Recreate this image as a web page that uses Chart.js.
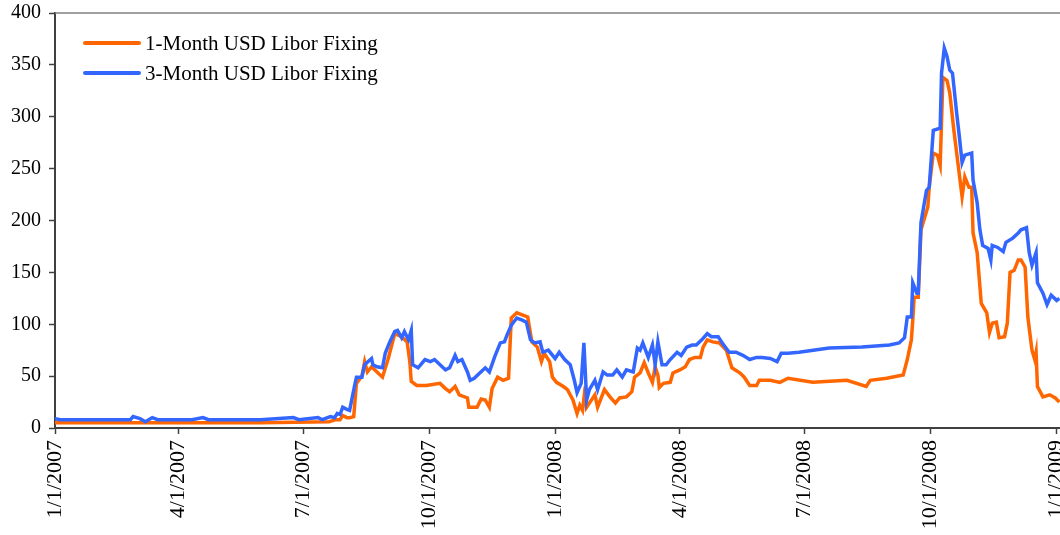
<!DOCTYPE html>
<html>
<head>
<meta charset="utf-8">
<script src="https://cdn.jsdelivr.net/npm/chart.js@4.4.0/dist/chart.umd.min.js"></script>
<style>
  body { margin: 0; overflow: hidden; background: #fff; }
  #wrap { width: 1100px; height: 535px; }
</style>
</head>
<body>
<div id="wrap"><canvas id="myChart" width="1100" height="535"></canvas></div>
<script>
// x values are days counted from 1/1/2007
const tickDays = [0, 90, 181, 273, 365, 456, 547, 639, 731];
const tickLabels = ["1/1/2007", "4/1/2007", "7/1/2007", "10/1/2007", "1/1/2008", "4/1/2008", "7/1/2008", "10/1/2008", "1/1/2009"];
const yTicks = [0, 50, 100, 150, 200, 250, 300, 350, 400];

const seriesNames = ["1-Month USD Libor Fixing", "3-Month USD Libor Fixing"];

const oneMonthDays = [0, 50, 100, 150, 200, 205, 208, 210, 213, 215, 218, 220, 224, 226, 228, 231, 235, 239, 243, 248, 253, 257, 259, 260, 264, 271, 281, 285, 288, 292, 295, 301, 302, 308, 311, 314, 317, 319, 323, 327, 331, 333, 337, 341, 345, 348, 352, 355, 357, 361, 363, 366, 371, 374, 378, 381, 383, 385, 387, 388, 390, 394, 396, 401, 405, 409, 412, 417, 421, 423, 427, 430, 433, 436, 438, 440, 441, 444, 449, 451, 456, 460, 463, 467, 471, 473, 476, 480, 485, 490, 494, 500, 503, 507, 512, 514, 522, 529, 535, 553, 578, 592, 595, 607, 619, 622, 625, 626, 627, 630, 632, 637, 638, 641, 644, 646, 648, 651, 653, 656, 659, 662, 664, 667, 669, 670, 673, 676, 680, 682, 684, 687, 689, 693, 695, 697, 700, 703, 705, 708, 710, 713, 715, 716, 717, 721, 726, 730, 733];
const oneMonthValues = [5, 5, 5, 5, 6, 8, 8, 12, 10, 10, 11, 43, 50, 64, 54, 59, 54, 49, 66, 91, 88, 83, 63, 45, 41, 41, 43, 38, 35, 40, 32, 29, 20, 20, 28, 27, 20, 38, 49, 46, 48, 106, 111, 109, 107, 83, 78, 64, 72, 64, 49, 44, 40, 37, 27, 14, 22, 17, 40, 20, 24, 32, 20, 37, 30, 24, 29, 30, 35, 49, 53, 63, 53, 44, 59, 51, 39, 43, 44, 53, 56, 59, 66, 68, 68, 78, 85, 83, 82, 75, 58, 53, 49, 41, 41, 46, 46, 44, 48, 44, 46, 40, 46, 48, 51, 66, 85, 104, 126, 126, 191, 213, 232, 265, 263, 253, 338, 335, 323, 287, 255, 223, 242, 232, 232, 188, 169, 120, 111, 92, 101, 102, 87, 88, 101, 150, 152, 162, 162, 155, 107, 75, 66, 73, 40, 30, 32, 29, 25];

const threeMonthDays = [0, 4, 20, 40, 55, 57, 62, 66, 71, 75, 100, 108, 112, 150, 174, 178, 192, 195, 201, 204, 206, 208, 210, 213, 215, 219, 220, 224, 226, 231, 232, 235, 239, 241, 244, 248, 250, 253, 255, 258, 260, 261, 265, 270, 274, 277, 281, 285, 288, 292, 294, 297, 301, 303, 306, 310, 314, 317, 321, 325, 328, 330, 333, 337, 341, 344, 347, 350, 354, 356, 360, 365, 368, 372, 376, 379, 381, 384, 386, 388, 390, 394, 396, 400, 403, 407, 410, 414, 417, 422, 425, 427, 429, 433, 436, 438, 440, 443, 446, 449, 454, 457, 461, 465, 468, 472, 476, 479, 484, 487, 492, 497, 502, 507, 512, 516, 522, 527, 530, 535, 543, 565, 589, 609, 616, 620, 622, 625, 626, 629, 630, 632, 636, 638, 641, 646, 647, 649, 651, 653, 655, 658, 660, 662, 664, 669, 670, 673, 675, 677, 681, 683, 684, 688, 692, 694, 699, 703, 705, 709, 711, 713, 716, 717, 721, 724, 727, 731, 733];
const threeMonthValues = [9, 8, 8, 8, 8, 11, 9, 6, 10, 8, 8, 10, 8, 8, 10, 8, 10, 8, 11, 10, 14, 13, 20, 18, 17, 43, 49, 49, 61, 67, 61, 59, 58, 72, 82, 93, 94, 87, 93, 85, 94, 61, 58, 66, 64, 66, 61, 56, 58, 70, 64, 66, 54, 46, 48, 53, 58, 54, 69, 82, 83, 90, 99, 106, 104, 102, 85, 82, 83, 73, 75, 67, 73, 66, 61, 46, 34, 43, 82, 27, 37, 46, 37, 54, 51, 51, 56, 49, 56, 54, 77, 75, 82, 68, 80, 61, 83, 61, 61, 66, 73, 70, 78, 80, 80, 85, 91, 88, 88, 82, 73, 73, 70, 66, 68, 68, 67, 64, 72, 72, 73, 77, 78, 80, 82, 87, 107, 107, 140, 130, 130, 198, 229, 232, 287, 289, 342, 366, 358, 345, 342, 304, 281, 256, 263, 265, 239, 217, 191, 176, 173, 162, 176, 174, 170, 179, 183, 188, 191, 193, 169, 157, 169, 140, 130, 119, 128, 123, 125];

const naranja = "#FF6600";
const azul = "#3366FF";
const fuente = "'Liberation Serif', 'DejaVu Serif', serif";

function armarPuntos(dias, valores) {
  return dias.map((d, i) => ({ x: d, y: valores[i] }));
}

// legend drawn inside the plot, stacked like the original
const leyenda = {
  id: "leyenda",
  afterDraw(chart) {
    const ctx = chart.ctx;
    const area = chart.chartArea;
    ctx.save();
    // top border of the plot
    ctx.strokeStyle = "#7f7f7f";
    ctx.lineWidth = 1.5;
    ctx.beginPath();
    ctx.moveTo(area.left, area.top);
    ctx.lineTo(area.right, area.top);
    ctx.stroke();

    ctx.font = "21px " + fuente;
    ctx.textBaseline = "middle";
    ctx.fillStyle = "#000";
    chart.data.datasets.forEach((ds, i) => {
      const y = area.top + 30 + i * 30;
      ctx.strokeStyle = ds.borderColor;
      ctx.lineWidth = 4;
      ctx.lineCap = "round";
      ctx.beginPath();
      ctx.moveTo(area.left + 30, y);
      ctx.lineTo(area.left + 84, y);
      ctx.stroke();
      ctx.fillText(ds.label, area.left + 90, y + 1);
    });
    ctx.restore();
  },
};

const config = {
  type: "line",
  data: {
    datasets: [
      {
        label: seriesNames[0],
        data: armarPuntos(oneMonthDays, oneMonthValues),
        borderColor: naranja,
        backgroundColor: naranja,
        borderWidth: 3.5,
        pointRadius: 0,
        tension: 0,
        order: 1,
      },
      {
        label: seriesNames[1],
        data: armarPuntos(threeMonthDays, threeMonthValues),
        borderColor: azul,
        backgroundColor: azul,
        borderWidth: 3.5,
        pointRadius: 0,
        tension: 0,
        order: 0,
      },
    ],
  },
  options: {
    responsive: false,
    animation: false,
    layout: { padding: { top: 13, right: 5, left: 0, bottom: 0 } },
    plugins: {
      legend: { display: false },
      tooltip: { enabled: false },
    },
    scales: {
      x: {
        type: "linear",
        min: 0,
        max: 759,
        afterBuildTicks: (axis) => {
          axis.ticks = tickDays.map((v) => ({ value: v }));
        },
        afterFit: (axis) => {
          axis.height = 107;
          axis.paddingLeft = 0;
          axis.paddingRight = 0;
        },
        grid: {
          drawOnChartArea: false,
          drawTicks: true,
          tickLength: 6,
          color: "#404040",
          tickWidth: 1.5,
        },
        border: { display: true, color: "#404040", width: 2 },
        ticks: {
          autoSkip: false,
          minRotation: 90,
          maxRotation: 90,
          padding: 6,
          color: "#000",
          font: { family: fuente, size: 22 },
          callback: (value) => tickLabels[tickDays.indexOf(value)],
        },
      },
      y: {
        min: 0,
        max: 400,
        afterBuildTicks: (axis) => {
          axis.ticks = yTicks.map((v) => ({ value: v }));
        },
        afterFit: (axis) => {
          axis.width = 55;
          axis.paddingTop = 0;
          axis.paddingBottom = 0;
        },
        grid: {
          drawOnChartArea: false,
          drawTicks: true,
          tickLength: 6,
          color: "#404040",
          tickWidth: 1.5,
        },
        border: { display: true, color: "#404040", width: 2 },
        ticks: {
          padding: 8,
          color: "#000",
          font: { family: fuente, size: 20 },
        },
      },
    },
  },
  plugins: [leyenda],
};

const chartDOM = document.getElementById("myChart");
window.chartInstance = new Chart(chartDOM, config);
</script>
</body>
</html>
